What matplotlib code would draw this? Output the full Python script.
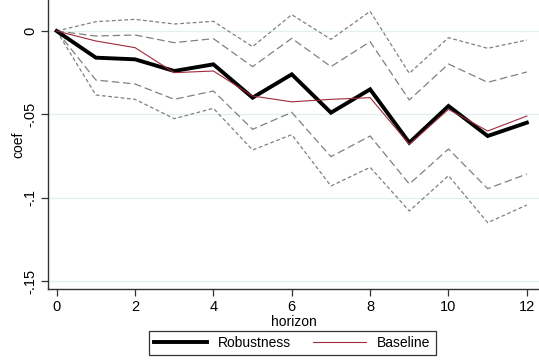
import matplotlib
matplotlib.use("Agg")
import matplotlib.pyplot as plt

horizon = [0, 1, 2, 3, 4, 5, 6, 7, 8, 9, 10, 11, 12]
robustness = [0, -0.016, -0.017, -0.024, -0.020, -0.040, -0.026, -0.049, -0.035, -0.067, -0.045, -0.063, -0.055]
baseline = [0, -0.006, -0.010, -0.025, -0.024, -0.039, -0.0425, -0.041, -0.040, -0.068, -0.047, -0.060, -0.051]
ci_outer_up = [0, 0.0056, 0.0070, 0.0042, 0.0058, -0.0094, 0.0098, -0.0050, 0.0118, -0.0254, -0.0040, -0.0104, -0.0054]
ci_inner_up = [0, -0.0030, -0.0024, -0.0070, -0.0046, -0.0214, -0.0044, -0.0214, -0.0064, -0.0414, -0.0198, -0.0308, -0.0246]
ci_inner_lo = [0, -0.0294, -0.0318, -0.0410, -0.0360, -0.0590, -0.0488, -0.0754, -0.0630, -0.0918, -0.0708, -0.0946, -0.0858]
ci_outer_lo = [0, -0.0384, -0.0410, -0.0526, -0.0464, -0.0714, -0.0622, -0.0930, -0.0818, -0.1080, -0.0868, -0.1150, -0.1044]
yticks = [0, -0.05, -0.1, -0.15]
ytick_labels = ["0", "-.05", "-.1", "-.15"]
xticks = [0, 2, 4, 6, 8, 10, 12]

plt.rcParams['font.family'] = ['Liberation Sans', 'DejaVu Sans']

fig = plt.figure(figsize=(5.39, 3.64), dpi=100)
fig.patch.set_facecolor('white')
ax = fig.add_axes([48.3/539, 75/364, (539-48.3)/539, 289/364])

for yt in yticks:
    ax.axhline(yt, color='#e3eef0', lw=0.9, zorder=0)

grey = '#808080'
ax.plot(horizon, ci_outer_up, color=grey, lw=0.9, dashes=(3, 2), zorder=2)
ax.plot(horizon, ci_outer_lo, color=grey, lw=0.9, dashes=(3, 2), zorder=2)
ax.plot(horizon, ci_inner_up, color=grey, lw=0.9, dashes=(6, 3), zorder=2)
ax.plot(horizon, ci_inner_lo, color=grey, lw=0.9, dashes=(6, 3), zorder=2)
l1, = ax.plot(horizon, robustness, color='black', lw=2.8, zorder=3, label='Robustness', solid_joinstyle='miter')
l2, = ax.plot(horizon, baseline, color='#9e2a3a', lw=0.8, zorder=4, label='Baseline')

ax.set_xlim(-0.214, 12.31)
ax.set_ylim(-0.1548, 0.0186)
ax.set_xticks(xticks)
ax.set_xticklabels([str(x) for x in xticks], fontsize=10.5)
ax.set_yticks(yticks)
ax.set_yticklabels(ytick_labels, fontsize=10.5, rotation=90, va='center')

for s in ['top', 'right']:
    ax.spines[s].set_visible(False)
for s in ['left', 'bottom']:
    ax.spines[s].set_color('#333333')
    ax.spines[s].set_linewidth(1.0)
ax.tick_params(axis='both', direction='out', length=5, width=0.9, color='#333333', labelcolor='black')
ax.tick_params(axis='x', pad=3)
ax.tick_params(axis='y', pad=3)

ax.set_xlabel('horizon', fontsize=10)
ax.xaxis.set_label_coords(0.5, (289 - 315) / 289)
ax.set_ylabel('coef', fontsize=10)
ax.yaxis.set_label_coords((25 - 48.3) / 490.7, 0.5)

leg = fig.legend(handles=[l1, l2], labels=['Robustness', 'Baseline'], loc='center',
                 bbox_to_anchor=(292.5/539, 1 - 343/364), ncol=2, fontsize=10,
                 frameon=True, fancybox=False, edgecolor='black', handlelength=3.8,
                 columnspacing=1.6, borderpad=0.35, handletextpad=0.8)
leg.get_frame().set_linewidth(0.9)

fig.savefig('out.png', dpi=100, facecolor='white')
